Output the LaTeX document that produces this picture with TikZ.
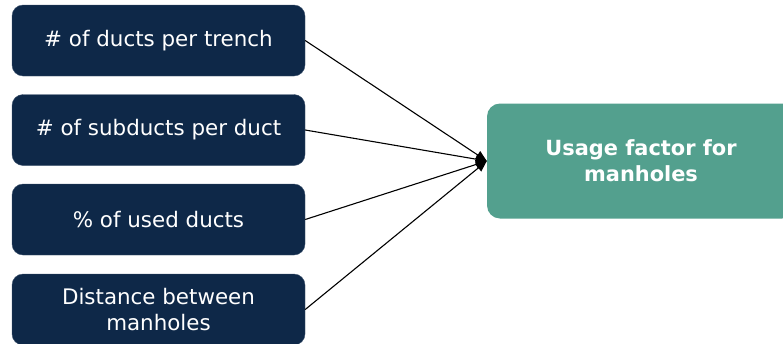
\documentclass[tikz,border=0pt]{standalone}
\usepackage{fontspec}
\setmainfont{DejaVu Sans}
\usetikzlibrary{arrows.meta}
\definecolor{navy}{RGB}{14,40,72}
\definecolor{teal}{RGB}{83,160,142}
\begin{document}
\begin{tikzpicture}[x=1pt,y=-1pt,
  inbox/.style={fill=navy, draw=navy!80!white, rounded corners=11pt, minimum width=293pt, minimum height=71pt, text=white, align=center, inner sep=0pt, font=\fontsize{21.4pt}{26pt}\selectfont},
  outbox/.style={fill=teal, rounded corners=13pt, minimum width=308pt, minimum height=115pt, text=white, align=center, inner sep=0pt, font=\fontsize{20.9pt}{26pt}\selectfont\bfseries},
  conn/.style={draw=black, line width=1.1pt, -{Triangle[length=11pt,width=9pt]}}]
\useasboundingbox (0,0) rectangle (783,343);
\clip (0,0) rectangle (783,343);
\node[inbox] (b1) at (158.5,40.5) {\# of ducts per trench};
\node[inbox] (b2) at (158.5,130) {\# of subducts per duct};
\node[inbox] (b3) at (158.5,219.5) {\% of used ducts};
\node[inbox] (b4) at (158.5,309.5) {Distance between\\manholes};
\node[outbox] (r) at (641,161) {Usage factor for\\manholes};
\draw[conn] (b1.east) -- (r.west);
\draw[conn] (b2.east) -- (r.west);
\draw[conn] (b3.east) -- (r.west);
\draw[conn] (b4.east) -- (r.west);
\end{tikzpicture}
\end{document}
